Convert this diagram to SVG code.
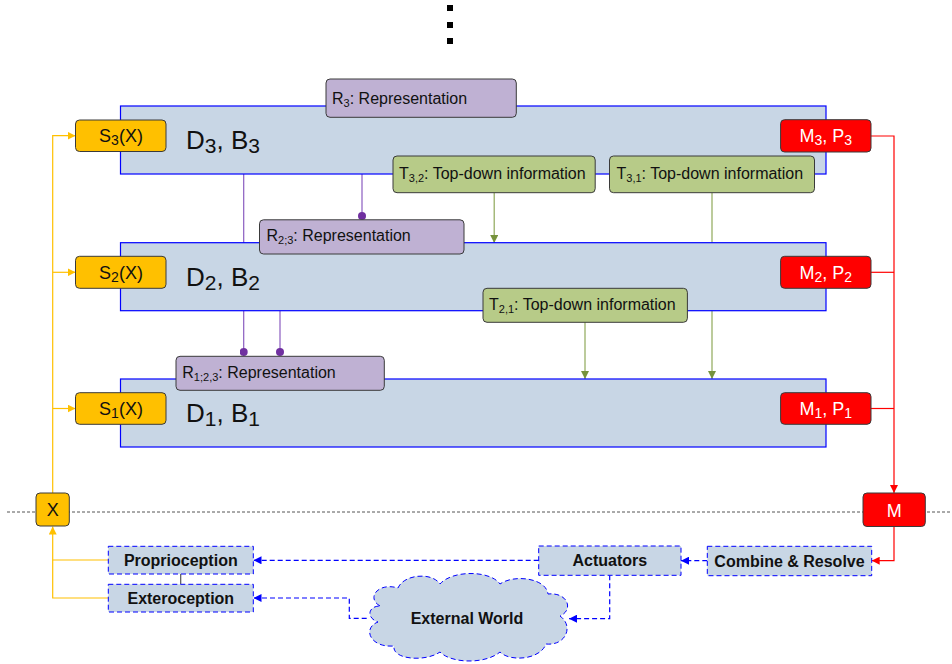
<svg xmlns="http://www.w3.org/2000/svg" width="952" height="664" viewBox="0 0 952 664">
<defs>
<style>
text{font-family:"Liberation Sans",Arial,sans-serif;fill:#111}
.layer{fill:#c8d6e5;stroke:#0000ff;stroke-width:1.2}
.sbox{fill:#ffc000;stroke:#3a3a3a;stroke-width:1}
.mbox{fill:#ff0000;stroke:#3a3a3a;stroke-width:1}
.rbox{fill:#bfb1d3;stroke:#3a3a3a;stroke-width:1}
.tbox{fill:#b7cb88;stroke:#3a3a3a;stroke-width:1}
.ebox{fill:#c8d6e5;stroke:#0000ff;stroke-width:1;stroke-dasharray:5 3}
.big{font-size:26px}
.mid{font-size:18px}
.lbl{font-size:16px}
.bold{font-size:16px;font-weight:bold}
.white{fill:#ffffff}
.cy{fill:none;stroke:#ffc000;stroke-width:1.2}
.cr{fill:none;stroke:#ff0000;stroke-width:1.2}
.cb{fill:none;stroke:#0000ff;stroke-width:1.2;stroke-dasharray:5 3}
.cp{fill:none;stroke:#8a5cc0;stroke-width:1.2}
.cg{fill:none;stroke:#8fa85a;stroke-width:1.2}
.cgrey{fill:none;stroke:#555;stroke-width:1.2}
.div{fill:none;stroke:#555;stroke-width:1;stroke-dasharray:3 2}
</style>
<marker id="aY" viewBox="0 0 10 10" refX="10" refY="5" markerWidth="8" markerHeight="8" orient="auto" markerUnits="userSpaceOnUse"><path d="M0,0 L10,5 L0,10 z" fill="#ffc000"/></marker>
<marker id="aR" viewBox="0 0 10 10" refX="10" refY="5" markerWidth="8" markerHeight="8" orient="auto" markerUnits="userSpaceOnUse"><path d="M0,0 L10,5 L0,10 z" fill="#ff0000"/></marker>
<marker id="aB" viewBox="0 0 10 10" refX="10" refY="5" markerWidth="8" markerHeight="8" orient="auto" markerUnits="userSpaceOnUse"><path d="M0,0 L10,5 L0,10 z" fill="#0000ff"/></marker>
<marker id="aG" viewBox="0 0 10 10" refX="10" refY="5" markerWidth="8" markerHeight="8" orient="auto" markerUnits="userSpaceOnUse"><path d="M0,0 L10,5 L0,10 z" fill="#76923c"/></marker>
<marker id="dP" viewBox="0 0 10 10" refX="5" refY="5" markerWidth="8" markerHeight="8" markerUnits="userSpaceOnUse"><circle cx="5" cy="5" r="5" fill="#7030a0"/></marker>
</defs>

<g id="ellipsis">
<rect x="447" y="5" width="6" height="6" fill="#000"/>
<rect x="447" y="22" width="6" height="6" fill="#000"/>
<rect x="447" y="38" width="6" height="6" fill="#000"/>
</g>

<g id="connectors">
<path class="div" d="M7,512 H952"/>
<!-- yellow sensing -->
<path class="cy" d="M108.3,560 H52.7 V526.5" marker-end="url(#aY)"/>
<path class="cy" d="M108.3,598 H52.7 V560"/>
<path class="cy" d="M52.7,493 V135.7 H75.5" marker-end="url(#aY)"/>
<path class="cy" d="M52.7,272.3 H75.5" marker-end="url(#aY)"/>
<path class="cy" d="M52.7,408.5 H75.5" marker-end="url(#aY)"/>
<!-- red motor -->
<path class="cr" d="M871,136 H894 V493" marker-end="url(#aR)"/>
<path class="cr" d="M871,272.3 H894"/>
<path class="cr" d="M871,408.5 H894"/>
<path class="cr" d="M894,526.5 V560.7 H871.7" marker-end="url(#aR)"/>
<!-- blue dashed -->
<path class="cb" d="M707.3,560.7 H681" marker-end="url(#aB)"/>
<path class="cb" d="M538.7,560.3 H253.5" marker-end="url(#aB)"/>
<path class="cb" d="M609.7,575.3 V618.7 H569" marker-end="url(#aB)"/>
<path class="cb" d="M366.7,618.3 H349.3 V598 H253.5" marker-end="url(#aB)"/>
<path class="cgrey" d="M180.7,574 V584.3"/>
<!-- purple representation -->
<path class="cp" d="M243.7,174 V243"/>
<path class="cp" d="M362,174 V216" marker-end="url(#dP)"/>
<path class="cp" d="M243.7,311 V352" marker-end="url(#dP)"/>
<path class="cp" d="M280,311 V352" marker-end="url(#dP)"/>
<!-- green top-down -->
<path class="cg" d="M494.2,192.7 V243" marker-end="url(#aG)"/>
<path class="cg" d="M712,192.7 V379" marker-end="url(#aG)"/>
<path class="cg" d="M585,322.3 V379" marker-end="url(#aG)"/>
</g>

<g id="layer3">
<rect class="layer" x="120.5" y="106" width="705.5" height="68"/>
<text class="big" x="186" y="149">D<tspan font-size="21" dy="4">3</tspan><tspan dy="-4">, B</tspan><tspan font-size="21" dy="4">3</tspan></text>
</g>
<g id="layer2">
<rect class="layer" x="120.5" y="242.7" width="705.5" height="68"/>
<text class="big" x="186" y="285.7">D<tspan font-size="21" dy="4">2</tspan><tspan dy="-4">, B</tspan><tspan font-size="21" dy="4">2</tspan></text>
</g>
<g id="layer1">
<rect class="layer" x="120.5" y="379" width="705.5" height="68"/>
<text class="big" x="186" y="422">D<tspan font-size="21" dy="4">1</tspan><tspan dy="-4">, B</tspan><tspan font-size="21" dy="4">1</tspan></text>
</g>

<g id="S3"><rect class="sbox" x="75.5" y="120" width="90.5" height="31.5" rx="4"/><text class="mid" x="121" y="142" text-anchor="middle">S<tspan font-size="14" dy="3">3</tspan><tspan dy="-3">(X)</tspan></text></g>
<g id="S2"><rect class="sbox" x="75.5" y="256.3" width="90.5" height="32" rx="4"/><text class="mid" x="121" y="278.5" text-anchor="middle">S<tspan font-size="14" dy="3">2</tspan><tspan dy="-3">(X)</tspan></text></g>
<g id="S1"><rect class="sbox" x="75.5" y="392.7" width="90.5" height="31.6" rx="4"/><text class="mid" x="121" y="414.8" text-anchor="middle">S<tspan font-size="14" dy="3">1</tspan><tspan dy="-3">(X)</tspan></text></g>

<g id="M3"><rect class="mbox" x="780.6" y="119.7" width="90.4" height="32.3" rx="4"/><text class="mid white" x="825.8" y="142" text-anchor="middle">M<tspan font-size="14" dy="3">3</tspan><tspan dy="-3">, P</tspan><tspan font-size="14" dy="3">3</tspan></text></g>
<g id="M2"><rect class="mbox" x="780.6" y="256.3" width="90.4" height="32" rx="4"/><text class="mid white" x="825.8" y="278.5" text-anchor="middle">M<tspan font-size="14" dy="3">2</tspan><tspan dy="-3">, P</tspan><tspan font-size="14" dy="3">2</tspan></text></g>
<g id="M1"><rect class="mbox" x="780.6" y="392.7" width="90.4" height="31.6" rx="4"/><text class="mid white" x="825.8" y="414.8" text-anchor="middle">M<tspan font-size="14" dy="3">1</tspan><tspan dy="-3">, P</tspan><tspan font-size="14" dy="3">1</tspan></text></g>

<g id="R3"><rect class="rbox" x="326" y="79" width="190.3" height="38.3" rx="4"/><text class="lbl" x="332" y="103.5">R<tspan font-size="11" dy="3">3</tspan><tspan dy="-3">: Representation</tspan></text></g>
<g id="R23"><rect class="rbox" x="259.5" y="219.8" width="204.5" height="34.2" rx="4"/><text class="lbl" x="266.5" y="241.3">R<tspan font-size="11" dy="3">2;3</tspan><tspan dy="-3">: Representation</tspan></text></g>
<g id="R123"><rect class="rbox" x="176" y="356.3" width="208.3" height="34" rx="4"/><text class="lbl" x="182.3" y="378.2">R<tspan font-size="11" dy="3">1;2,3</tspan><tspan dy="-3">: Representation</tspan></text></g>

<g id="T32"><rect class="tbox" x="393" y="156" width="202.2" height="36.7" rx="4"/><text class="lbl" x="399" y="179">T<tspan font-size="11" dy="3">3,2</tspan><tspan dy="-3">: Top-down information</tspan></text></g>
<g id="T31"><rect class="tbox" x="609.5" y="156" width="205" height="36.7" rx="4"/><text class="lbl" x="616.5" y="179">T<tspan font-size="11" dy="3">3,1</tspan><tspan dy="-3">: Top-down information</tspan></text></g>
<g id="T21"><rect class="tbox" x="483" y="288.3" width="204.4" height="34" rx="4"/><text class="lbl" x="489" y="310.3">T<tspan font-size="11" dy="3">2,1</tspan><tspan dy="-3">: Top-down information</tspan></text></g>

<g id="X"><rect class="sbox" x="36" y="493" width="33.3" height="33" rx="4"/><text class="mid" x="52.7" y="516" text-anchor="middle">X</text></g>
<g id="M"><rect class="mbox" x="863" y="493" width="62.3" height="33.5" rx="4"/><text class="mid white" x="894.2" y="516.5" text-anchor="middle">M</text></g>

<g id="proprioception"><rect class="ebox" x="108.3" y="546.3" width="145" height="27.7"/><text class="bold" x="180.8" y="565.7" text-anchor="middle">Proprioception</text></g>
<g id="exteroception"><rect class="ebox" x="108.3" y="584.3" width="145" height="27.7"/><text class="bold" x="180.8" y="603.7" text-anchor="middle">Exteroception</text></g>
<g id="actuators"><rect class="ebox" x="538.7" y="546" width="142.3" height="29.3"/><text class="bold" x="609.8" y="566.3" text-anchor="middle">Actuators</text></g>
<g id="combine"><rect class="ebox" x="707.3" y="546.3" width="164.4" height="29.4"/><text class="bold" x="789.5" y="566.5" text-anchor="middle">Combine &amp; Resolve</text></g>
<g id="world">
<path class="ebox" d="M380,606 C366,598 378,582 398,588 C404,574 432,572 440,584 C452,570 490,570 500,584 C514,574 546,578 548,594 C568,592 574,610 560,616 C574,626 566,646 546,644 C540,660 510,662 500,652 C486,664 452,664 440,652 C426,662 392,660 394,646 C370,648 362,628 378,622 C366,618 368,606 380,606 Z"/>
<text class="bold" x="467" y="623.5" text-anchor="middle">External World</text>
</g>
</svg>
